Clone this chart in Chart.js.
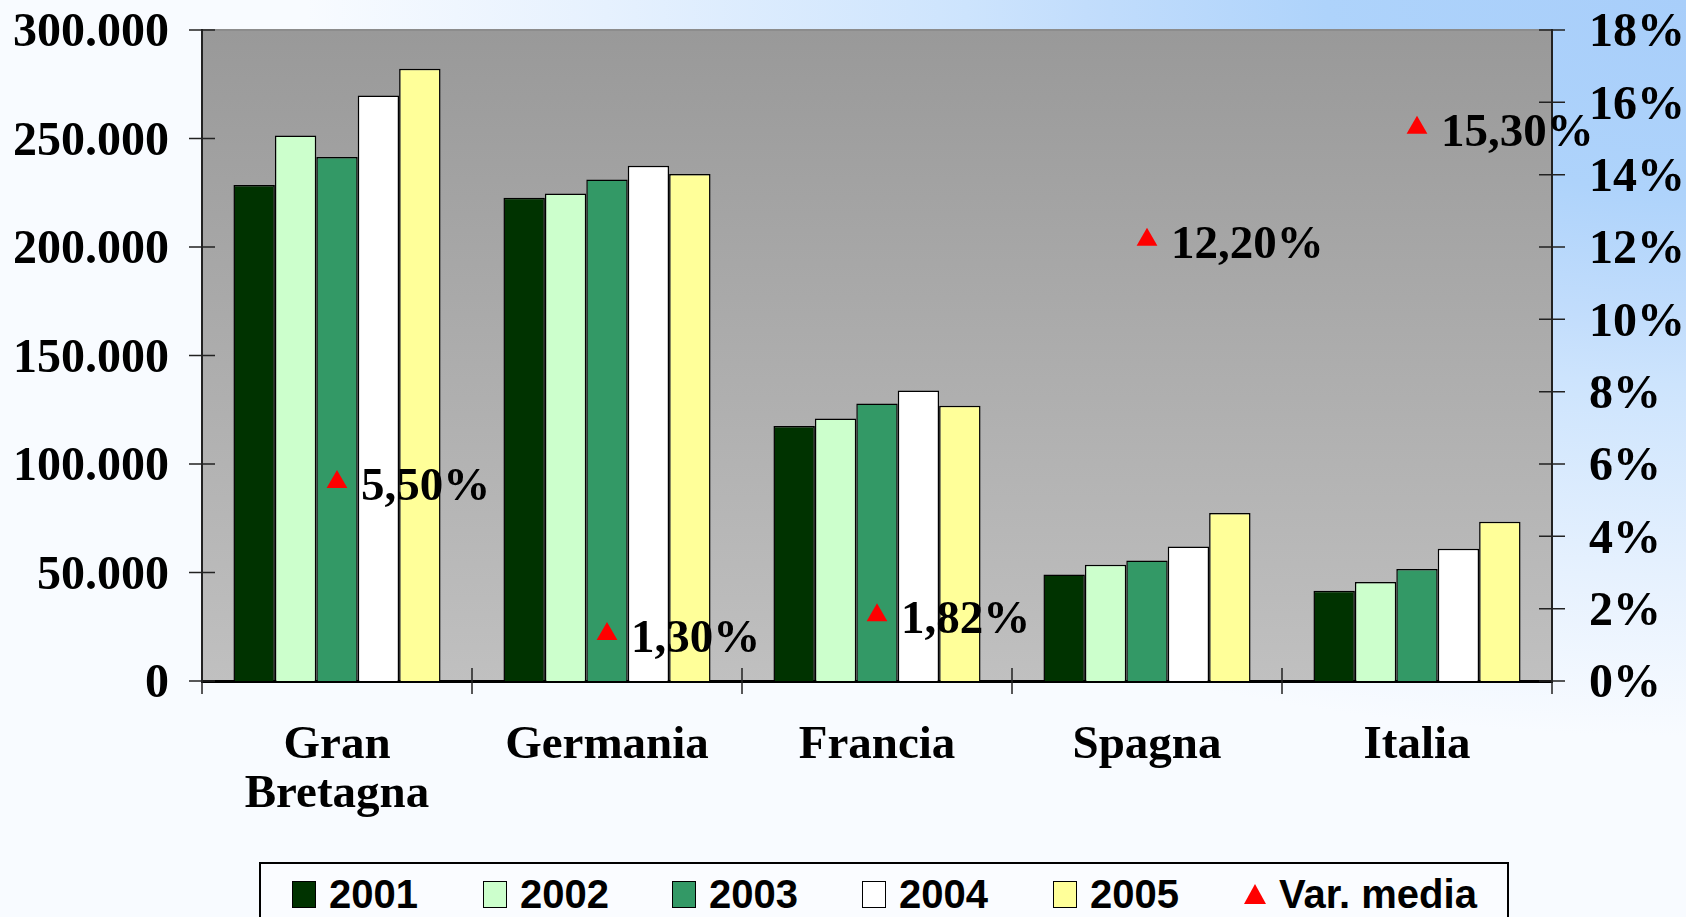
<!DOCTYPE html>
<html>
<head>
<meta charset="utf-8">
<script src="https://cdn.jsdelivr.net/npm/chart.js@4/dist/chart.umd.min.js"></script>
<style>
  html, body { margin: 0; padding: 0; overflow: hidden; }
  body {
    width: 1686px; height: 917px; position: relative;
    background:
      radial-gradient(ellipse 1500px 800px at 100% 0%, #a8cefa 0%, #aed3fb 24%, #c2ddfc 40%, #cde4fd 48%, #e6f1fe 72%, #f8fbff 92%),
      #f8fbff;
  }
  #chart { position: absolute; left: 0; top: 0; }
  .legend {
    position: absolute; left: 259px; top: 862px; width: 1250px; height: 80px;
    border: 2px solid #000; background: #fafcff; box-sizing: border-box;
  }
  .item {
    position: absolute; top: 10px; height: 40px; display: flex; align-items: center;
    font: bold 40px "Liberation Sans", Arial, sans-serif; color: #000;
  }
  .box { width: 22px; height: 25px; border: 1.5px solid #000; margin-right: 13px; }
  .tri {
    width: 22px; height: 20px; background: #ff0000; margin-right: 13px;
    clip-path: polygon(50% 0, 100% 100%, 0 100%);
  }
</style>
</head>
<body>
<canvas id="chart" width="1686" height="917"></canvas>
<div class="legend" id="legend"></div>
<script>
const paesi = [['Gran', 'Bretagna'], 'Germania', 'Francia', 'Spagna', 'Italia'];
const anni = ['2001', '2002', '2003', '2004', '2005'];
const valori2001 = [228600, 222700, 117500, 49100, 41600];
const valori2002 = [251400, 224600, 121000, 53600, 45600];
const valori2003 = [241500, 231100, 127900, 55500, 51600];
const valori2004 = [269800, 237500, 133900, 62000, 61000];
const valori2005 = [282200, 233600, 126900, 77400, 73400];
const varMedia = [5.50, 1.30, 1.82, 12.20, 15.30];
const coloriAnni = ['#003300', '#ccffcc', '#339966', '#ffffff', '#ffff99'];

const serif = '"Liberation Serif", "Times New Roman", serif';

// sfondo grigio sfumato dell'area del grafico
const sfondoArea = {
    id: 'sfondoArea',
    beforeDraw(chart) {
        const { ctx, chartArea: a } = chart;
        const g = ctx.createLinearGradient(0, a.top, 0, a.bottom);
        g.addColorStop(0, '#999999');
        g.addColorStop(1, '#c0c0c0');
        ctx.save();
        ctx.fillStyle = g;
        ctx.fillRect(a.left, a.top, a.right - a.left, a.bottom - a.top);
        ctx.strokeStyle = '#8c8c8c';
        ctx.lineWidth = 2;
        ctx.beginPath();
        ctx.moveTo(a.left, a.top);
        ctx.lineTo(a.right, a.top);
        ctx.stroke();
        ctx.restore();
    }
};

// tacche che attraversano gli assi
const tacche = {
    id: 'tacche',
    afterDraw(chart) {
        const { ctx, chartArea: a, scales } = chart;
        ctx.save();
        ctx.strokeStyle = '#222';
        ctx.lineWidth = 1.5;
        ctx.beginPath();
        scales.y.ticks.forEach((t, i) => {
            const y = scales.y.getPixelForTick(i);
            ctx.moveTo(a.left - 13, y); ctx.lineTo(a.left + 13, y);
        });
        scales.y1.ticks.forEach((t, i) => {
            const y = scales.y1.getPixelForTick(i);
            ctx.moveTo(a.right - 13, y); ctx.lineTo(a.right + 13, y);
        });
        for (let i = 0; i <= paesi.length; i++) {
            const x = scales.x.getPixelForValue(i - 0.5);
            ctx.moveTo(x, a.bottom - 13); ctx.lineTo(x, a.bottom + 13);
        }
        ctx.stroke();
        ctx.restore();
    }
};

const etichette = {
    id: 'etichette',
    afterDatasetsDraw(chart) {
        const { ctx } = chart;
        const meta = chart.getDatasetMeta(5);
        ctx.save();
        ctx.font = 'bold 47px ' + serif;
        ctx.fillStyle = '#000';
        ctx.textBaseline = 'middle';
        meta.data.forEach((pt, i) => {
            ctx.fillText(varMedia[i].toFixed(2).replace('.', ',') + '%', pt.x + 24, pt.y + 6);
        });
        ctx.restore();
    }
};

const datasets = [valori2001, valori2002, valori2003, valori2004, valori2005].map((v, i) => ({
    type: 'bar',
    label: anni[i],
    data: v,
    backgroundColor: coloriAnni[i],
    borderColor: '#000',
    borderWidth: 1.5,
    yAxisID: 'y',
    order: 2
}));
datasets.push({
    type: 'line',
    label: 'Var. media',
    data: varMedia,
    yAxisID: 'y1',
    showLine: false,
    pointStyle: 'triangle',
    pointRadius: 12,
    pointBackgroundColor: '#ff0000',
    pointBorderColor: '#ff0000',
    pointBorderWidth: 0,
    order: 1
});

const noPadV = s => { s.paddingTop = 0; s.paddingBottom = 0; };

new Chart(document.getElementById('chart'), {
    data: { labels: paesi, datasets: datasets },
    options: {
        responsive: false,
        animation: false,
        layout: { padding: { top: 30, left: 0, right: 0, bottom: 0 } },
        plugins: { legend: { display: false }, tooltip: { enabled: false } },
        datasets: { bar: { barPercentage: 1, categoryPercentage: 0.767 } },
        scales: {
            x: {
                grid: { display: false, drawTicks: false },
                border: { display: true, color: '#000', width: 3 },
                ticks: { color: '#000', padding: 40, maxRotation: 0, font: { family: serif, size: 47, weight: 'bold', lineHeight: 1.05 } },
                afterFit: s => { s.height = 236; s.paddingLeft = 0; s.paddingRight = 0; }
            },
            y: {
                position: 'left',
                min: 0, max: 300000,
                grid: { display: false, drawTicks: false },
                border: { display: true, color: '#222', width: 2 },
                ticks: {
                    stepSize: 50000, color: '#000', padding: 33, labelOffset: 4,
                    font: { family: serif, size: 48, weight: 'bold' },
                    callback: v => v === 0 ? '0' : (v / 1000) + '.000'
                },
                afterFit: s => { s.width = 202; noPadV(s); }
            },
            y1: {
                position: 'right',
                min: 0, max: 18,
                grid: { display: false, drawTicks: false },
                border: { display: true, color: '#222', width: 2 },
                ticks: {
                    stepSize: 2, color: '#000', padding: 37, labelOffset: 4,
                    font: { family: serif, size: 48, weight: 'bold' },
                    callback: v => v + '%'
                },
                afterFit: s => { s.width = 134; noPadV(s); }
            }
        }
    },
    plugins: [sfondoArea, tacche, etichette]
});

// legenda
const legenda = document.getElementById('legend');
const posBox = [31, 222, 411, 601, 792];
anni.forEach((a, i) => {
    const it = document.createElement('div');
    it.className = 'item';
    it.style.left = posBox[i] + 'px';
    it.innerHTML = '<span class="box" style="background:' + coloriAnni[i] + '"></span>' + a;
    legenda.appendChild(it);
});
const itVar = document.createElement('div');
itVar.className = 'item';
itVar.style.left = '983px';
itVar.innerHTML = '<span class="tri"></span>Var. media';
legenda.appendChild(itVar);
</script>
</body>
</html>
